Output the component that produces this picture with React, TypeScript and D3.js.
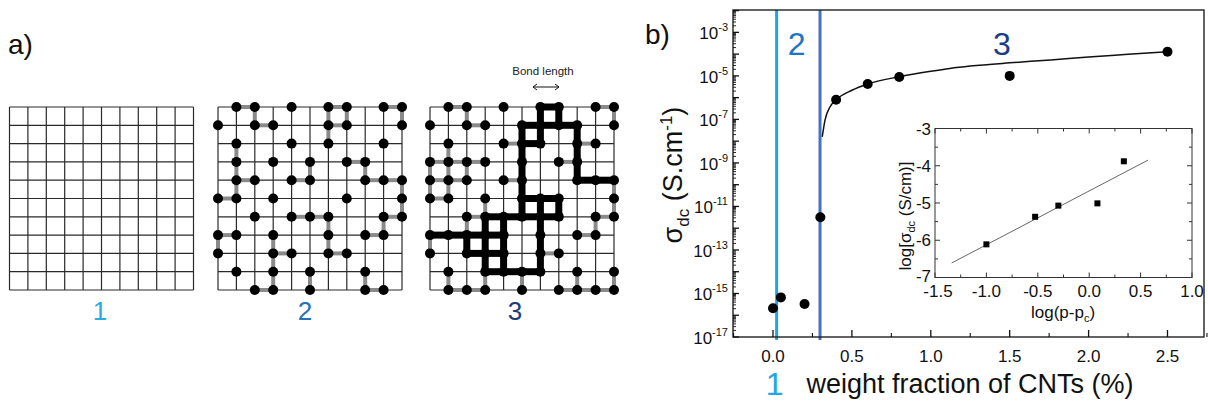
import React from 'react';
import * as d3 from 'd3';

// ---------- Panel a: lattices ----------
const GRID_N = 10;
const latticeX0 = [9.5, 218, 430];
const latticeLabels = ['1', '2', '3'];
const latticeLabelX = [100, 305, 515];
const latticeLabelColors = ['#2aa9e3', '#2470bf', '#1f3b78'];

// occupied sites per row (column indices), top row first
const lattice2Sites: number[][] = [
  [1, 2, 4, 6, 7, 9, 10],
  [0, 2, 3, 6, 7, 10],
  [1, 4, 6, 9],
  [1, 3, 5, 7, 8],
  [1, 2, 4, 5, 8, 9, 10],
  [0, 1, 3, 7, 10],
  [2, 4, 5, 6, 9, 10],
  [0, 1, 3, 6, 8, 9],
  [0, 3, 4, 6, 7],
  [1, 3, 5, 8],
  [2, 3, 5, 8, 9],
];
const lattice3Sites: number[][] = [
  [1, 2, 4, 6, 7, 9, 10],
  [0, 2, 3, 5, 6, 7, 8, 10],
  [1, 4, 5, 6, 8, 9],
  [0, 1, 2, 3, 5, 7, 8],
  [0, 1, 2, 4, 5, 8, 9, 10],
  [0, 1, 3, 5, 6, 7, 10],
  [2, 3, 4, 5, 6, 7, 9, 10],
  [0, 1, 2, 3, 4, 6, 8, 9],
  [0, 2, 3, 4, 6, 7],
  [1, 3, 4, 5, 6, 8, 10],
  [1, 2, 3, 5, 7, 8, 9, 10],
];
// spanning cluster sites (thick path)
const lattice3Cluster: number[][] = [
  [6, 7],
  [5, 6, 7, 8],
  [5, 6, 8],
  [5, 8],
  [5, 8, 9, 10],
  [5, 6, 7],
  [3, 4, 5, 6, 7],
  [0, 1, 2, 3, 4, 6],
  [2, 3, 4, 6],
  [3, 4, 5, 6],
  [],
];

// ---------- Panel b: main chart ----------
const mainX = [0.0, 0.05, 0.2, 0.3, 0.4, 0.6, 0.8, 1.5, 2.5];
const mainLogSigma = [-15.68, -15.18, -15.48, -11.5, -6.1, -5.37, -5.05, -5.0, -3.89];
const fitX = [0.312, 0.33, 0.36, 0.4, 0.5, 0.6, 0.8, 1.0, 1.12, 1.25, 1.5, 1.76, 2.0, 2.25, 2.5];
const fitLogSigma = [-7.8, -7.02, -6.44, -6.1, -5.66, -5.37, -5.04, -4.79, -4.66, -4.55, -4.4, -4.27, -4.13, -4.01, -3.89];
const xTicks = [0, 0.5, 1.0, 1.5, 2.0, 2.5];
const xMinorTicks = [-0.25, 0.25, 0.75, 1.25, 1.75, 2.25, 2.75];
const yLabelExps = [-17, -15, -13, -11, -9, -7, -5, -3];
const regionLines = [0.023, 0.298];
const regionColors = ['#22a4e2', '#4570c6'];
const regionLabels = ['1', '2', '3'];
const regionLabelX = [0.01, 0.15, 1.45];
const regionLabelColors = ['#23a6e3', '#1f74c4', '#1d3c86'];

// ---------- Inset ----------
const insetX = [-1.0, -0.526, -0.3, 0.08, 0.337];
const insetY = [-6.11, -5.37, -5.07, -5.01, -3.88];
const insetFitX = [-1.338, 0.571];
const insetFitY = [-6.61, -3.85];
const insetXTicks = [-1.5, -1.0, -0.5, 0.0, 0.5, 1.0];
const insetYTicks = [-7, -6, -5, -4, -3];

const FONT = '"Liberation Sans", Arial, sans-serif';

function Lattice({ x0, sites, cluster }: { x0: number; sites?: number[][]; cluster?: number[][] }) {
  const xs = d3.scaleLinear().domain([0, GRID_N]).range([x0, x0 + 184]);
  const ys = d3.scaleLinear().domain([0, GRID_N]).range([107, 290]);
  const idx = d3.range(GRID_N + 1);
  const has = (arr: number[][] | undefined, r: number, c: number) => !!arr && r >= 0 && r < arr.length && arr[r].includes(c);
  const gray: any[] = [];
  const thick: any[] = [];
  const dots: any[] = [];
  if (sites) {
    sites.forEach((row, r) => {
      row.forEach((c) => {
        dots.push(<circle key={`d${r}-${c}`} cx={xs(c)} cy={ys(r)} r={5} fill="#000" />);
        if (has(sites, r, c + 1)) {
          const t = has(cluster, r, c) && has(cluster, r, c + 1);
          const el = <line key={`h${r}-${c}`} x1={xs(c)} x2={xs(c + 1)} y1={ys(r)} y2={ys(r)} stroke={t ? '#000' : '#8a8a8a'} strokeWidth={t ? 7 : 4} strokeLinecap="square" />;
          (t ? thick : gray).push(el);
        }
        if (has(sites, r + 1, c)) {
          const t = has(cluster, r, c) && has(cluster, r + 1, c);
          const el = <line key={`v${r}-${c}`} x1={xs(c)} x2={xs(c)} y1={ys(r)} y2={ys(r + 1)} stroke={t ? '#000' : '#8a8a8a'} strokeWidth={t ? 7 : 4} strokeLinecap="square" />;
          (t ? thick : gray).push(el);
        }
      });
    });
  }
  return (
    <g>
      {idx.map((i) => (
        <line key={`gx${i}`} x1={xs(i)} x2={xs(i)} y1={ys(0)} y2={ys(GRID_N)} stroke="#2a2a2a" strokeWidth={1.2} />
      ))}
      {idx.map((i) => (
        <line key={`gy${i}`} x1={xs(0)} x2={xs(GRID_N)} y1={ys(i)} y2={ys(i)} stroke="#2a2a2a" strokeWidth={1.2} />
      ))}
      {gray}
      {thick}
      {dots}
    </g>
  );
}

export default function App() {
  // main scales
  const x = d3.scaleLinear().domain([0, 2.5]).range([773, 1167.5]);
  const yTop = 10, yBot = 337;
  const logTop = -17 + (yBot - yTop) / 21.76;
  const y = d3.scaleLog().domain([1e-17, Math.pow(10, logTop)]).range([yBot, yTop]);
  const xLeft = 733, xRight = 1204;

  const majorExps = d3.range(-17, Math.floor(logTop) + 1);
  const minorVals: number[] = [];
  majorExps.forEach((e) => {
    for (let m = 2; m <= 9; m++) {
      const v = m * Math.pow(10, e);
      if (Math.log10(v) < logTop) minorVals.push(v);
    }
  });

  const fitLine = d3
    .line<number>()
    .x((_, i) => x(fitX[i]))
    .y((_, i) => y(Math.pow(10, fitLogSigma[i])))
    .curve(d3.curveMonotoneX);

  // inset scales
  const ix = d3.scaleLinear().domain([-1.5, 1.0]).range([935, 1192]);
  const iy = d3.scaleLinear().domain([-7, -3]).range([277.5, 128.5]);
  const ixMinor = d3.range(-1.25, 1.0, 0.5);
  const iyMinor = d3.range(-6.5, -3, 1);

  return (
    <svg width={1208} height={405} style={{ position: 'absolute', left: 0, top: 0, background: '#fff' }} fontFamily={FONT}>
      <rect x={0} y={0} width={1208} height={405} fill="#fff" />
      {/* Panel a */}
      <text x={8} y={54} fontSize={28} fill="#111">a)</text>
      {latticeX0.map((x0, i) => (
        <Lattice key={i} x0={x0} sites={i === 0 ? undefined : i === 1 ? lattice2Sites : lattice3Sites} cluster={i === 2 ? lattice3Cluster : undefined} />
      ))}
      {latticeLabels.map((l, i) => (
        <text key={l} x={latticeLabelX[i]} y={320} fontSize={26} textAnchor="middle" fill={latticeLabelColors[i]}>{l}</text>
      ))}
      <text x={543} y={75} fontSize={11.5} textAnchor="middle" fill="#222">Bond length</text>
      <g stroke="#111" strokeWidth={1} fill="none">
        <line x1={533} x2={559} y1={87} y2={87} />
        <path d="M537,84 L533,87 L537,90" />
        <path d="M555,84 L559,87 L555,90" />
      </g>

      {/* Panel b */}
      <text x={645} y={44} fontSize={28} fill="#111">b)</text>

      {/* region lines */}
      {regionLines.map((v, i) => (
        <line key={`rl${i}`} x1={x(v)} x2={x(v)} y1={yTop} y2={yBot + 3} stroke={regionColors[i]} strokeWidth={3} />
      ))}

      {/* frame */}
      <rect x={xLeft} y={yTop} width={xRight - xLeft} height={yBot - yTop} fill="none" stroke="#222" strokeWidth={1.4} />

      {/* y ticks */}
      {majorExps.map((e) => (
        <line key={`ym${e}`} x1={xLeft} x2={xLeft + 6} y1={y(Math.pow(10, e))} y2={y(Math.pow(10, e))} stroke="#111" strokeWidth={1.3} />
      ))}
      {minorVals.map((v, i) => (
        <line key={`yn${i}`} x1={xLeft} x2={xLeft + 3} y1={y(v)} y2={y(v)} stroke="#111" strokeWidth={0.9} />
      ))}
      {yLabelExps.map((e) => (
        <text key={`yl${e}`} x={728} y={y(Math.pow(10, e)) + 7} fontSize={17} textAnchor="end" fill="#111">
          10<tspan dy={-8} fontSize={11}>{String(e)}</tspan>
        </text>
      ))}

      {/* x ticks */}
      {xTicks.map((t) => (
        <g key={`xt${t}`}>
          <line x1={x(t)} x2={x(t)} y1={yBot} y2={yBot - 7} stroke="#111" strokeWidth={1.3} />
          <text x={x(t)} y={362} fontSize={17} textAnchor="middle" fill="#111">{t.toFixed(1)}</text>
        </g>
      ))}
      {xMinorTicks.map((t) => (
        <line key={`xm${t}`} x1={x(t)} x2={x(t)} y1={yBot} y2={yBot - 4} stroke="#111" strokeWidth={1.1} />
      ))}

      {/* axis titles */}
      <text x={970} y={393} fontSize={27} textAnchor="middle" fill="#111">weight fraction of CNTs (%)</text>
      <text transform="translate(682,175) rotate(-90)" fontSize={27} textAnchor="middle" fill="#111">
        σ<tspan dy={7} fontSize={17}>dc</tspan>
        <tspan dy={-7}> (S.cm</tspan>
        <tspan dy={-10} fontSize={17}>-1</tspan>
        <tspan dy={10}>)</tspan>
      </text>

      {/* region labels */}
      <text x={x(regionLabelX[0])} y={395} fontSize={32} textAnchor="middle" fill={regionLabelColors[0]}>{regionLabels[0]}</text>
      <text x={x(regionLabelX[1])} y={55} fontSize={32} textAnchor="middle" fill={regionLabelColors[1]}>{regionLabels[1]}</text>
      <text x={x(regionLabelX[2])} y={55} fontSize={32} textAnchor="middle" fill={regionLabelColors[2]}>{regionLabels[2]}</text>

      {/* fit curve and data */}
      <path d={fitLine(fitX) || ''} fill="none" stroke="#111" strokeWidth={1.5} />
      {mainX.map((v, i) => (
        <circle key={`p${i}`} cx={x(v)} cy={y(Math.pow(10, mainLogSigma[i]))} r={5} fill="#000" />
      ))}

      {/* inset */}
      <rect x={ix(-1.5)} y={iy(-3)} width={ix(1.0) - ix(-1.5)} height={iy(-7) - iy(-3)} fill="#fff" stroke="#333" strokeWidth={1} />
      {insetXTicks.map((t) => (
        <g key={`ixt${t}`}>
          <line x1={ix(t)} x2={ix(t)} y1={iy(-7)} y2={iy(-7) - 5} stroke="#333" />
          <line x1={ix(t)} x2={ix(t)} y1={iy(-3)} y2={iy(-3) + 5} stroke="#333" />
          <text x={ix(t) + (t === -1.5 ? 3 : 0)} y={297} fontSize={17} textAnchor="middle" fill="#111">{t.toFixed(1)}</text>
        </g>
      ))}
      {ixMinor.map((t) => (
        <g key={`ixm${t}`}>
          <line x1={ix(t)} x2={ix(t)} y1={iy(-7)} y2={iy(-7) - 3} stroke="#333" />
          <line x1={ix(t)} x2={ix(t)} y1={iy(-3)} y2={iy(-3) + 3} stroke="#333" />
        </g>
      ))}
      {insetYTicks.map((t) => (
        <g key={`iyt${t}`}>
          <line x1={ix(-1.5)} x2={ix(-1.5) + 5} y1={iy(t)} y2={iy(t)} stroke="#333" />
          <line x1={ix(1.0)} x2={ix(1.0) - 5} y1={iy(t)} y2={iy(t)} stroke="#333" />
          <text x={931} y={iy(t) + (t === -7 ? 4 : 6)} fontSize={17} textAnchor="end" fill="#111">{String(t)}</text>
        </g>
      ))}
      {iyMinor.map((t) => (
        <g key={`iym${t}`}>
          <line x1={ix(-1.5)} x2={ix(-1.5) + 3} y1={iy(t)} y2={iy(t)} stroke="#333" />
          <line x1={ix(1.0)} x2={ix(1.0) - 3} y1={iy(t)} y2={iy(t)} stroke="#333" />
        </g>
      ))}
      <line x1={ix(insetFitX[0])} x2={ix(insetFitX[1])} y1={iy(insetFitY[0])} y2={iy(insetFitY[1])} stroke="#666" strokeWidth={1} />
      {insetX.map((v, i) => (
        <rect key={`sq${i}`} x={ix(v) - 3} y={iy(insetY[i]) - 3} width={6} height={6} fill="#000" />
      ))}
      <text x={1063} y={318} fontSize={17} textAnchor="middle" fill="#111">
        log(p-p<tspan dy={4} fontSize={11}>c</tspan><tspan dy={-4}>)</tspan>
      </text>
      <text transform="translate(911,216) rotate(-90)" fontSize={17} textAnchor="middle" fill="#111">
        log[σ<tspan dy={4} fontSize={11}>dc</tspan><tspan dy={-4}> (S/cm)]</tspan>
      </text>
    </svg>
  );
}
